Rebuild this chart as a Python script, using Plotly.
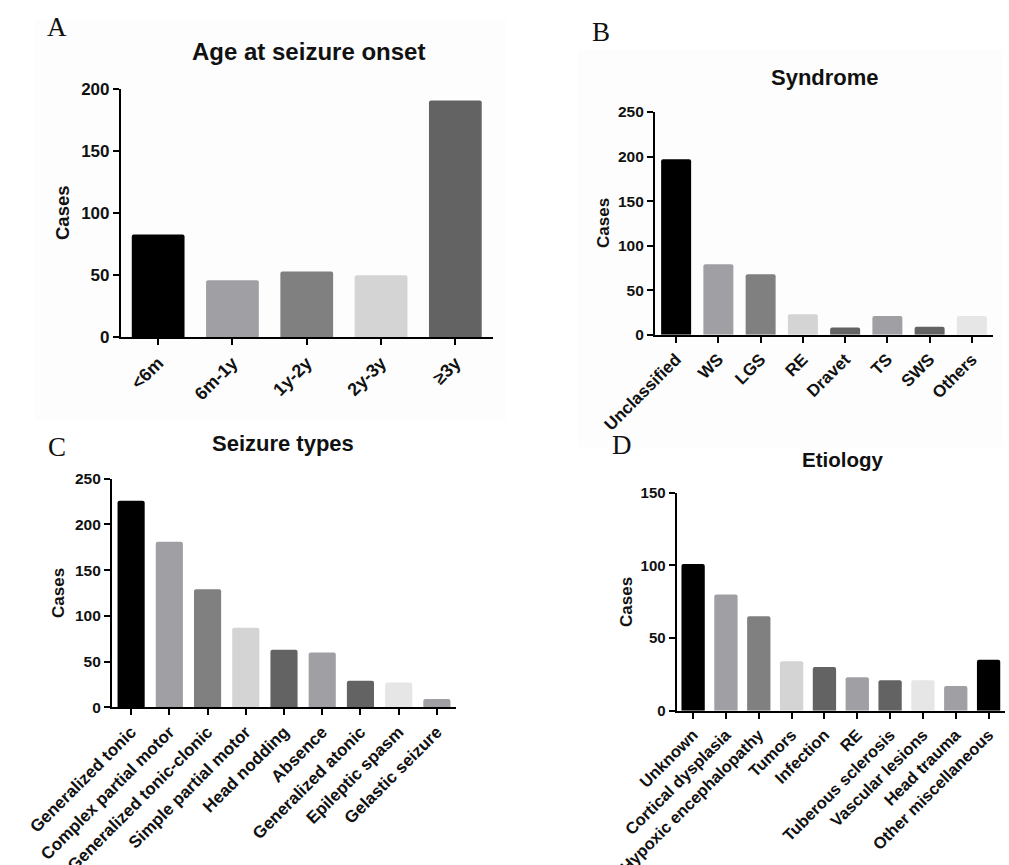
import plotly.graph_objects as go

# ---------------- data ----------------
age_categories = ["<6m", "6m-1y", "1y-2y", "2y-3y", "≥3y"]
age_cases = [83, 46, 53, 50, 191]

syndrome_categories = ["Unclassified", "WS", "LGS", "RE", "Dravet", "TS", "SWS", "Others"]
syndrome_cases = [197, 79, 68, 23, 8, 21, 9, 21]

seizure_categories = ["Generalized tonic", "Complex partial motor", "Generalized tonic-clonic",
                      "Simple partial motor", "Head nodding", "Absence", "Generalized atonic",
                      "Epileptic spasm", "Gelastic seizure"]
seizure_cases = [226, 181, 129, 87, 63, 60, 29, 27, 9]

etiology_categories = ["Unknown", "Cortical dysplasia", "Hypoxic encephalopathy", "Tumors",
                       "Infection", "RE", "Tuberous sclerosis", "Vascular lesions",
                       "Head trauma", "Other miscellaneous"]
etiology_cases = [101, 80, 65, 34, 30, 23, 21, 21, 17, 35]

# ---------------- styling ----------------
W, H = 1009, 865
BLK, G1, G2, G3, G4, G5 = "#000000", "#a0a0a4", "#808080", "#d4d4d4", "#636363", "#e6e6e6"
palette = [BLK, G1, G2, G3, G4, G1, G4, G5, G1, BLK]
age_colors = [BLK, G1, G2, G3, G4]

FONT = "Liberation Sans, Arial, sans-serif"
SERIF = "Liberation Serif, Times New Roman, serif"

def px_x(x):
    return x / W

def px_y(y):
    return 1 - y / H

panels = [
    dict(cats=age_categories, vals=age_cases, colors=age_colors, xd=(121, 492.5), yd=(89.3, 337.3),
         ymax=200, title="Age at seizure onset", tpos=(308, 52), letter="A", lpos=(57, 27),
         cpos=(63, 213), xfs=18, yfs=17, tfs=24, cfs=18.5),
    dict(cats=syndrome_categories, vals=syndrome_cases, colors=palette[:8], xd=(655, 993), yd=(112, 334.7),
         ymax=250, title="Syndrome", tpos=(825, 78), letter="B", lpos=(601, 32),
         cpos=(603, 223), xfs=17, yfs=15.5, tfs=22, cfs=17),
    dict(cats=seizure_categories, vals=seizure_cases, colors=palette[:9], xd=(112, 456), yd=(478.7, 707.3),
         ymax=250, title="Seizure types", tpos=(283, 444), letter="C", lpos=(57, 447),
         cpos=(58, 593), xfs=17, yfs=15.5, tfs=22, cfs=17),
    dict(cats=etiology_categories, vals=etiology_cases, colors=palette[:10], xd=(676.7, 1005), yd=(492.7, 710.7),
         ymax=150, title="Etiology", tpos=(842, 460), letter="D", lpos=(622, 445),
         cpos=(626, 602), xfs=16.5, yfs=15, tfs=20.5, cfs=17),
]

fig = go.Figure()
annotations = []
layout_axes = {}

for i, p in enumerate(panels, start=1):
    xa = "x" if i == 1 else f"x{i}"
    ya = "y" if i == 1 else f"y{i}"
    fig.add_trace(go.Bar(
        x=p["cats"], y=p["vals"], xaxis=xa, yaxis=ya,
        marker=dict(color=p["colors"], line=dict(width=0)),
        width=0.71, showlegend=False,
    ))
    xkey = "xaxis" if i == 1 else f"xaxis{i}"
    ykey = "yaxis" if i == 1 else f"yaxis{i}"
    layout_axes[xkey] = dict(
        domain=[px_x(p["xd"][0]), px_x(p["xd"][1])], anchor=ya, automargin=False,
        type="category", range=[-0.5, len(p["cats"]) - 0.5],
        showline=True, linecolor="black", linewidth=2.2,
        ticks="outside", ticklen=6, tickwidth=2, tickcolor="black",
        tickangle=-45, showgrid=False, zeroline=False,
        tickfont=dict(family=FONT, size=p["xfs"], color="#111", weight="bold"),
    )
    layout_axes[ykey] = dict(
        domain=[px_y(p["yd"][1]), px_y(p["yd"][0])], anchor=xa, automargin=False,
        range=[0, p["ymax"]], dtick=50, tick0=0,
        showline=True, linecolor="black", linewidth=2.2,
        ticks="outside", ticklen=6, tickwidth=2, tickcolor="black",
        showgrid=False, zeroline=False,
        tickfont=dict(family=FONT, size=p["yfs"], color="#111", weight="bold"),
    )
    annotations.append(dict(
        text=p["title"], x=px_x(p["tpos"][0]), y=px_y(p["tpos"][1]), xref="paper", yref="paper",
        xanchor="center", yanchor="middle", showarrow=False,
        font=dict(family=FONT, size=p["tfs"], color="#111", weight="bold"),
    ))
    annotations.append(dict(
        text=p["letter"], x=px_x(p["lpos"][0]), y=px_y(p["lpos"][1]), xref="paper", yref="paper",
        xanchor="center", yanchor="middle", showarrow=False,
        font=dict(family=SERIF, size=27, color="#111"),
    ))
    annotations.append(dict(
        text="Cases", x=px_x(p["cpos"][0]), y=px_y(p["cpos"][1]), xref="paper", yref="paper",
        xanchor="center", yanchor="middle", showarrow=False, textangle=-90,
        font=dict(family=FONT, size=p["cfs"], color="#111", weight="bold"),
    ))

shapes = [
    dict(type="rect", xref="paper", yref="paper", x0=px_x(35), x1=px_x(506), y0=px_y(420), y1=px_y(20),
         fillcolor="#fdfdfd", line=dict(width=0), layer="below"),
    dict(type="rect", xref="paper", yref="paper", x0=px_x(578), x1=px_x(1003), y0=px_y(447), y1=px_y(50),
         fillcolor="#fdfdfd", line=dict(width=0), layer="below"),
]

fig.update_layout(
    width=W, height=H, margin=dict(l=0, r=0, t=0, b=0, autoexpand=False),
    paper_bgcolor="white", plot_bgcolor="rgba(0,0,0,0)",
    bargap=0.29, barcornerradius=2,
    annotations=annotations, shapes=shapes,
    **layout_axes,
)

fig.write_html("out.html")
